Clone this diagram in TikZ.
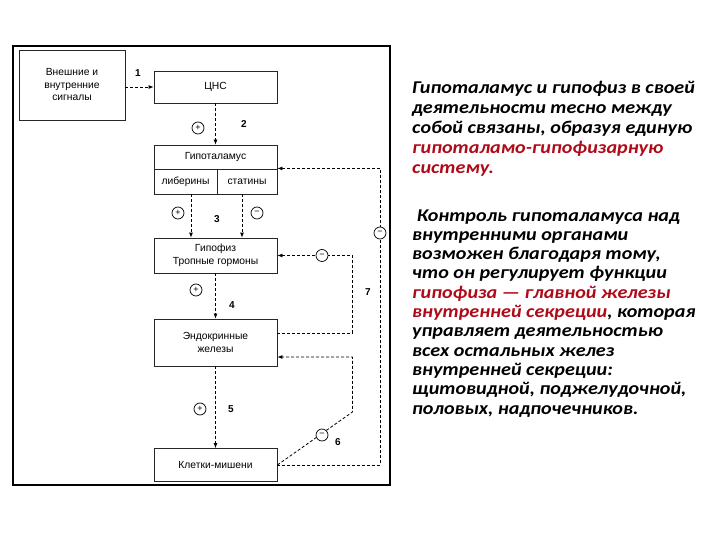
\documentclass[tikz,border=0pt]{standalone}
\usepackage{fontspec}
\setmainfont{Liberation Sans}
\newfontfamily\rt[FakeStretch=1.12]{Carlito}
\usetikzlibrary{arrows.meta,calc}
\definecolor{rtred}{RGB}{175,10,25}
\tikzset{
  box/.style={draw=black!85, line width=0.8pt, minimum width=123pt, inner sep=1pt, align=center, font=\fontsize{10.3}{12.5}\selectfont},
  fl/.style={densely dashed, line width=0.8pt, -{Latex[length=5pt,width=4pt]}},
  fb/.style={densely dashed, line width=0.8pt},
  sgn/.style={circle, draw, fill=white, line width=0.7pt, minimum size=12pt, inner sep=0pt, font=\fontsize{9}{9}\selectfont},
  num/.style={font=\fontsize{10}{10}\selectfont\bfseries},
  para/.style={anchor=base west, align=left, inner sep=0pt}
}
\begin{document}
\begin{tikzpicture}[x=1pt,y=-1pt]
\useasboundingbox (0,0) rectangle (720,540);
% frame
\draw[line width=1.3pt] (13,46) rectangle (390,485);
% boxes
\node[box, minimum width=106pt, minimum height=70pt] (sig) at (72,85) {Внешние и\\внутренние\\сигналы};
\node[box, minimum height=32pt] (cns) at (215.5,87) {ЦНС};
\node[box, minimum height=24pt] (hyp) at (215.5,157) {Гипоталамус};
\node[box, minimum width=63pt, minimum height=25pt] (lib) at (185.5,181.5) {либерины};
\node[box, minimum width=60pt, minimum height=25pt] (stat) at (247,181.5) {статины};
\node[box, minimum height=35pt] (pit) at (215.5,255.5) {Гипофиз\\Тропные гормоны};
\node[box, minimum height=47pt] (endo) at (215.5,342.5) {Эндокринные\\железы};
\node[box, minimum height=33pt] (cells) at (215.5,465) {Клетки-мишени};
% forward arrows
\draw[fl] (sig.east |- cns.west) -- (cns.west);
\draw[fl] (cns.south) -- (hyp.north);
\coordinate (l3) at ([xshift=5.5pt]lib.south);
\coordinate (s3) at ([xshift=-5pt]stat.south);
\draw[fl] (l3) -- (l3 |- pit.north);
\draw[fl] (s3) -- (s3 |- pit.north);
\draw[fl] (pit.south) -- (endo.north);
\draw[fl] (endo.south) -- (cells.north);
% feedback
\draw[fl] ([yshift=9.5pt]endo.east) -- ++(75,0) |- (pit.east);
\draw[fl] (cells.east) -- ++(103,0) |- ([yshift=1pt]hyp.south east);
\draw[fl] (cells.east) -- ++(75,-53) |- ([yshift=-14.5pt]endo.east);
% sign circles
\node[sgn] (p2) at (198,128) {+};
\node[sgn] (p3) at (178,213) {+};
\node[sgn] (m3) at (257,213) {−};
\node[sgn] (p4) at (196,290) {+};
\node[sgn] (p5) at (200,409) {+};
\node[sgn] (m7) at (380,233) {−};
\node[sgn] (ma) at (322,255.5) {−};
\node[sgn] (m6) at (322,435) {−};
% numbers
\node[num] (n1) at (138,73) {1};
\node[num] (n2) at (244,124) {2};
\node[num] (n3) at (217,219) {3};
\node[num] (n4) at (232,305) {4};
\node[num] (n5) at (231,409) {5};
\node[num] (n6) at (338,442) {6};
\node[num] (n7) at (368,292) {7};
% right text (anchor at the baseline of the last line)
\node[para, font=\rt\bfseries\itshape\fontsize{18}{20}\selectfont] (t1) at (412,174)
{Гипоталамус и гипофиз в своей\\
деятельности тесно между\\
собой связаны, образуя единую\\
\textcolor{rtred}{гипоталамо-гипофизарную}\\
\textcolor{rtred}{систему.}};
\node[para, font=\rt\bfseries\itshape\fontsize{18}{19.3}\selectfont] (t2) at (412,414)
{\ Контроль гипоталамуса над\\
внутренними органами\\
возможен благодаря тому,\\
что он регулирует функции\\
\textcolor{rtred}{гипофиза — главной железы}\\
\textcolor{rtred}{внутренней секреции}, которая\\
управляет деятельностью\\
всех остальных желез\\
внутренней секреции:\\
щитовидной, поджелудочной,\\
половых, надпочечников.};
\end{tikzpicture}
\end{document}
